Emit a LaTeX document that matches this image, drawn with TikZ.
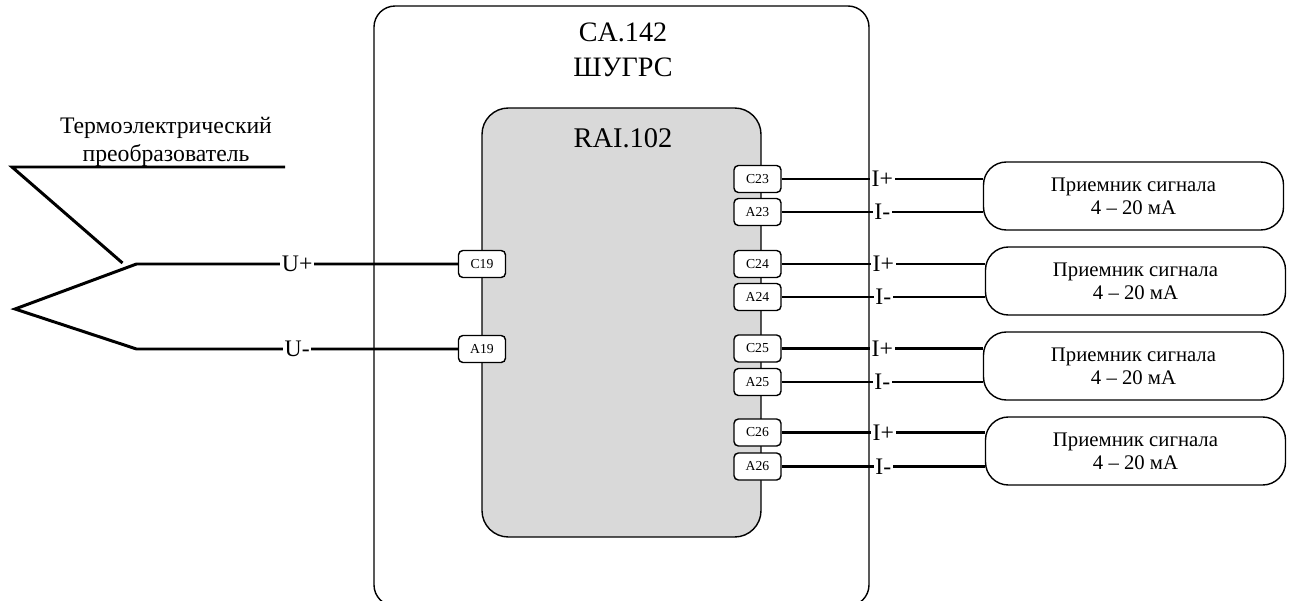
\documentclass[tikz,border=0pt]{standalone}
\usepackage{fontspec}
\setmainfont{Liberation Serif}
\definecolor{modgray}{RGB}{217, 217, 217}
\tikzset{
  cabinet/.style={draw, thick, rounded corners=12pt, minimum width=9.9cm, minimum height=12cm},
  module/.style={draw, thick, fill=modgray, rounded corners=15pt, minimum width=5.58cm, minimum height=8.58cm},
  terminal/.style={draw, thick, fill=white, rounded corners=2.5pt, minimum width=0.94cm, minimum height=0.54cm, inner sep=0pt, font=\fontsize{7.8}{9}\selectfont},
  receiver/.style={draw, thick, fill=white, rounded corners=13pt, minimum width=6cm, minimum height=1.36cm, align=center, inner sep=0pt, font=\fontsize{11.8}{13}\selectfont},
  wire/.style={line width=1.7pt},
  signal/.style={fill=white, inner sep=1pt, font=\fontsize{13.5}{15}\selectfont},
}
\begin{document}
\begin{tikzpicture}
  \useasboundingbox (0, 0) rectangle (25.9, 12);

  % Cabinet
  \node[cabinet] (cabinet) at (12.43, 5.88) {};
  \node[align=center, font=\fontsize{16}{20}\selectfont] (cabname) at (12.46, 11.0) {CA.142\\ШУГРС};

  % Module
  \node[module] (raimod) at (12.43, 5.55) {};
  \node[font=\fontsize{16.2}{18}\selectfont] (rainame) at (12.46, 9.24) {RAI.102};

  % Terminals, left
  \node[terminal] (c19) at (9.64, 6.72) {C19};
  \node[terminal] (a19) at (9.64, 5.02) {A19};

  % Terminals, right
  \node[terminal] (c23) at (15.15, 8.42) {C23};
  \node[terminal] (a23) at (15.15, 7.76) {A23};
  \node[terminal] (c24) at (15.15, 6.72) {C24};
  \node[terminal] (a24) at (15.15, 6.06) {A24};
  \node[terminal] (c25) at (15.15, 5.03) {C25};
  \node[terminal] (a25) at (15.15, 4.36) {A25};
  \node[terminal] (c26) at (15.15, 3.35) {C26};
  \node[terminal] (a26) at (15.15, 2.67) {A26};

  % Receivers
  \node[receiver] (rcv1) at (22.67, 8.08) {Приемник сигнала\\4 – 20 мА};
  \node[receiver] (rcv2) at (22.71, 6.38) {Приемник сигнала\\4 – 20 мА};
  \node[receiver] (rcv3) at (22.67, 4.68) {Приемник сигнала\\4 – 20 мА};
  \node[receiver] (rcv4) at (22.71, 2.98) {Приемник сигнала\\4 – 20 мА};

  % Thermocouple
  \coordinate (tcend) at (5.7, 8.66);
  \coordinate (tcleft) at (0.24, 8.66);
  \coordinate (tcinner) at (2.45, 6.74);
  \coordinate (plus) at (2.73, 6.72);
  \coordinate (tip) at (0.3, 5.82);
  \coordinate (minus) at (2.73, 5.02);
  \node[align=center, font=\fontsize{13.5}{16}\selectfont] (tcname) at (3.32, 9.16) {Термоэлектрический\\преобразователь};
  \draw[wire] (tcend) -- (tcleft) -- (tcinner);
  \draw[wire] (c19.west) -- node[signal, pos=0.5] (uplus) {U+} (plus) -- (tip) -- (minus) -- node[signal, pos=0.5] (uminus) {U-} (a19.west);

  % Signal wires
  \draw[wire] (c23.east) -- node[signal, pos=0.5] (ip1) {I+} (c23.east -| rcv1.west);
  \draw[wire] (a23.east) -- node[signal, pos=0.5] (im1) {I-} (a23.east -| rcv1.west);
  \draw[wire] (c24.east) -- node[signal, pos=0.5] (ip2) {I+} (c24.east -| rcv2.west);
  \draw[wire] (a24.east) -- node[signal, pos=0.5] (im2) {I-} (a24.east -| rcv2.west);
  \draw[wire] (c25.east) -- node[signal, pos=0.5] (ip3) {I+} (c25.east -| rcv3.west);
  \draw[wire] (a25.east) -- node[signal, pos=0.5] (im3) {I-} (a25.east -| rcv3.west);
  \draw[wire] (c26.east) -- node[signal, pos=0.5] (ip4) {I+} (c26.east -| rcv4.west);
  \draw[wire] (a26.east) -- node[signal, pos=0.5] (im4) {I-} (a26.east -| rcv4.west);
\end{tikzpicture}
\end{document}
